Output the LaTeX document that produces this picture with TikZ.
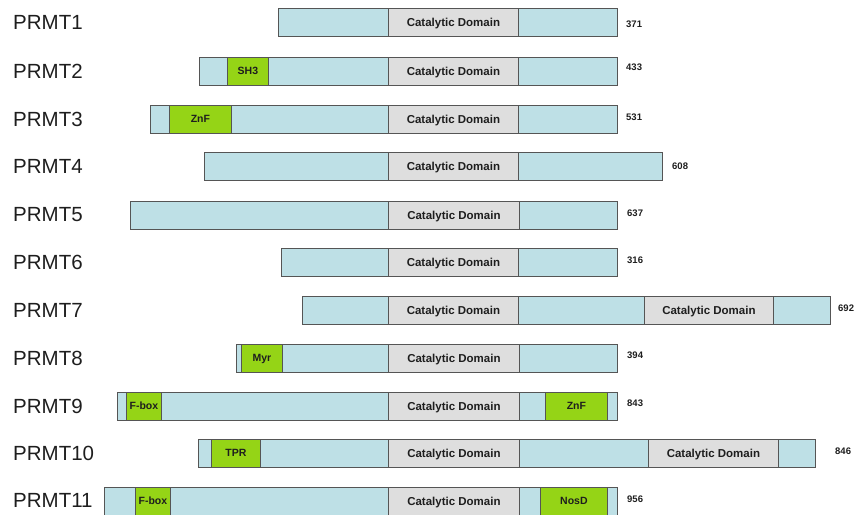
\documentclass[tikz,border=0pt]{standalone}
\usepackage{fontspec}
\setmainfont{Liberation Sans}
\definecolor{barblue}{HTML}{BEE0E6}
\definecolor{catgrey}{HTML}{DEDEDE}
\definecolor{domgreen}{HTML}{95D416}
\definecolor{edge}{HTML}{555555}
\definecolor{ink}{HTML}{1E1E1E}
\tikzset{
  seg/.style={draw=edge, line width=0.8pt, minimum height=28pt, inner sep=0pt, anchor=west, text=ink, text depth=0pt},
  protein/.style={seg, fill=barblue},
  cat/.style={seg, fill=catgrey, font=\bfseries\fontsize{11.5}{13}\selectfont},
  dom/.style={seg, fill=domgreen, font=\bfseries\fontsize{10.5}{12}\selectfont},
  pname/.style={anchor=west, inner sep=0pt, text=ink, font=\fontsize{20.5}{24}\selectfont},
  plen/.style={anchor=west, inner sep=0pt, text=ink, font=\bfseries\fontsize{9.5}{11}\selectfont},
  xspan/.style 2 args={minimum width={(#2-#1)*1pt}}
}
\begin{document}
\begin{tikzpicture}[x=1pt,y=-1pt]
\useasboundingbox (0,0) rectangle (856,514);
% PRMT1
\node[pname] (l1) at (13,22) {PRMT1};
\node[protein,xspan={278}{617}] (p1) at (278,22) {};
\node[cat,xspan={388}{518}] (c1) at (388,22) {Catalytic Domain};
\node[plen] (n1) at (626,24) {371};
% PRMT2
\node[pname] (l2) at (13,71) {PRMT2};
\node[protein,xspan={199}{617}] (p2) at (199,71) {};
\node[dom,xspan={227}{268}] (d2) at (227,71) {SH3};
\node[cat,xspan={388}{518}] (c2) at (388,71) {Catalytic Domain};
\node[plen] (n2) at (626,67) {433};
% PRMT3
\node[pname] (l3) at (13,119) {PRMT3};
\node[protein,xspan={150}{617}] (p3) at (150,119) {};
\node[dom,xspan={169}{231}] (d3) at (169,119) {ZnF};
\node[cat,xspan={388}{518}] (c3) at (388,119) {Catalytic Domain};
\node[plen] (n3) at (626,117) {531};
% PRMT4
\node[pname] (l4) at (13,166) {PRMT4};
\node[protein,xspan={204}{662}] (p4) at (204,166) {};
\node[cat,xspan={388}{518}] (c4) at (388,166) {Catalytic Domain};
\node[plen] (n4) at (672,166) {608};
% PRMT5
\node[pname] (l5) at (13,215) {PRMT5};
\node[protein,xspan={130}{617}] (p5) at (130,215) {};
\node[cat,xspan={388}{519}] (c5) at (388,215) {Catalytic Domain};
\node[plen] (n5) at (627,213) {637};
% PRMT6
\node[pname] (l6) at (13,262) {PRMT6};
\node[protein,xspan={281}{617}] (p6) at (281,262) {};
\node[cat,xspan={388}{518}] (c6) at (388,262) {Catalytic Domain};
\node[plen] (n6) at (627,260) {316};
% PRMT7
\node[pname] (l7) at (13,310) {PRMT7};
\node[protein,xspan={302}{830}] (p7) at (302,310) {};
\node[cat,xspan={388}{518}] (c7a) at (388,310) {Catalytic Domain};
\node[cat,xspan={644}{773}] (c7b) at (644,310) {Catalytic Domain};
\node[plen] (n7) at (838,308) {692};
% PRMT8
\node[pname] (l8) at (13,358) {PRMT8};
\node[protein,xspan={236}{617}] (p8) at (236,358) {};
\node[dom,xspan={241}{282}] (d8) at (241,358) {Myr};
\node[cat,xspan={388}{519}] (c8) at (388,358) {Catalytic Domain};
\node[plen] (n8) at (627,355) {394};
% PRMT9
\node[pname] (l9) at (13,406) {PRMT9};
\node[protein,xspan={117}{617}] (p9) at (117,406) {};
\node[dom,xspan={126}{161}] (d9a) at (126,406) {F-box};
\node[cat,xspan={388}{519}] (c9) at (388,406) {Catalytic Domain};
\node[dom,xspan={545}{607}] (d9b) at (545,406) {ZnF};
\node[plen] (n9) at (627,403) {843};
% PRMT10
\node[pname] (l10) at (13,453) {PRMT10};
\node[protein,xspan={198}{815}] (p10) at (198,453) {};
\node[dom,xspan={211}{260}] (d10) at (211,453) {TPR};
\node[cat,xspan={388}{519}] (c10a) at (388,453) {Catalytic Domain};
\node[cat,xspan={648}{778}] (c10b) at (648,453) {Catalytic Domain};
\node[plen] (n10) at (835,451) {846};
% PRMT11
\node[pname] (l11) at (13,500) {PRMT11};
\node[protein,xspan={104}{617}] (p11) at (104,501) {};
\node[dom,xspan={135}{170}] (d11a) at (135,501) {F-box};
\node[cat,xspan={388}{519}] (c11) at (388,501) {Catalytic Domain};
\node[dom,xspan={540}{607}] (d11b) at (540,501) {NosD};
\node[plen] (n11) at (627,499) {956};
\end{tikzpicture}
\end{document}
